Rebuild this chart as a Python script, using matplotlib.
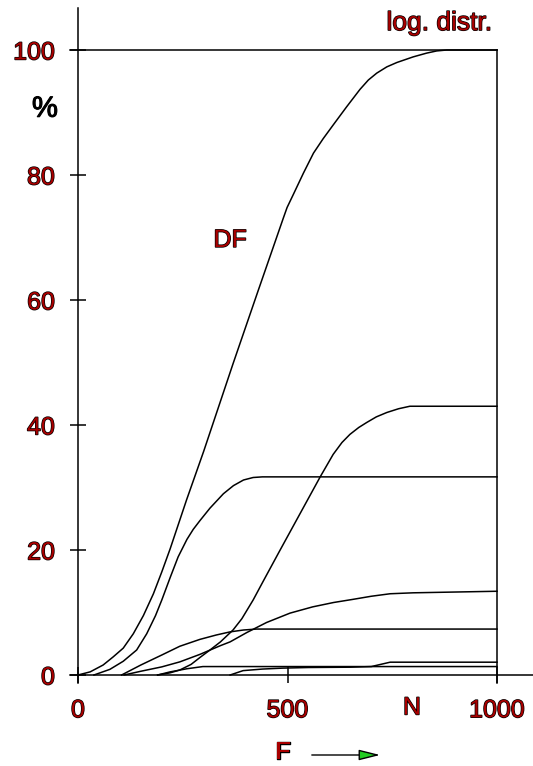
import matplotlib
matplotlib.use("Agg")
import matplotlib.pyplot as plt
import matplotlib.patheffects as pe

plt.rcParams['font.family'] = ['Liberation Sans', 'DejaVu Sans']

# ---- data ----
df_x = [0, 29, 60, 84, 108, 132, 156, 180, 200, 220, 259, 300, 370, 430, 490, 499,
        514, 538, 562, 585, 609, 641, 673, 693, 713, 737, 761, 800, 832, 856, 880, 1000]
df_y = [0, 0.5, 1.6, 2.9, 4.3, 6.6, 9.5, 13.0, 16.5, 20.2, 28, 35.8, 49.8, 61.5, 73.1, 74.8,
        76.9, 80.3, 83.5, 85.8, 88.0, 90.9, 93.7, 95.2, 96.3, 97.3, 98.0, 98.9, 99.5, 99.85, 100, 100]

c2_x = [38, 76, 108, 140, 164, 185, 200, 220, 239, 260, 275, 291, 315, 347, 371, 395, 418, 440, 1000]
c2_y = [0, 0.9, 2.2, 4.0, 6.6, 9.5, 12.0, 15.6, 18.9, 21.7, 23.3, 24.7, 26.7, 29.0, 30.3, 31.2, 31.6, 31.7, 31.7]

c3_x = [190, 220, 243, 270, 291, 315, 340, 370, 391, 418, 442, 480, 520, 578, 609,
        630, 649, 670, 689, 712, 737, 765, 792, 1000]
c3_y = [0, 0.35, 0.8, 1.7, 2.8, 4.0, 5.3, 7.2, 9.0, 12, 15.0, 19.7, 24.6, 31.7, 35.3,
        37.2, 38.5, 39.6, 40.4, 41.3, 42.0, 42.6, 43, 43]

c4_x = [110, 150, 200, 243, 291, 340, 363, 403, 450, 506, 560, 610, 656, 700, 745, 800, 1000]
c4_y = [0, 0.6, 1.3, 2.1, 3.3, 4.7, 5.3, 6.8, 8.4, 9.9, 10.9, 11.6, 12.1, 12.6, 13.0, 13.15, 13.4]

c5_x = [104, 150, 200, 243, 291, 330, 363, 395, 426, 1000]
c5_y = [0, 1.6, 3.2, 4.6, 5.7, 6.4, 6.9, 7.2, 7.35, 7.35]

c6_x = [363, 394, 440, 489, 550, 650, 700, 745, 1000]
c6_y = [0, 0.7, 0.95, 1.1, 1.2, 1.25, 1.35, 2.05, 2.05]

c7_x = [190, 220, 260, 298, 1000]
c7_y = [0, 0.5, 1.0, 1.35, 1.35]

curves = [(df_x, df_y), (c2_x, c2_y), (c3_x, c3_y), (c4_x, c4_y),
          (c5_x, c5_y), (c6_x, c6_y), (c7_x, c7_y)]

x_ticks = [0, 500, 1000]
x_tick_labels = ["0", "500", "1000"]
y_ticks = [0, 20, 40, 60, 80, 100]
y_tick_labels = ["0", "20", "40", "60", "80", "100"]

RED = '#a80000'
outline = [pe.Stroke(linewidth=1.0, foreground='black'), pe.Normal()]

W, H = 533, 766
fig = plt.figure(figsize=(W / 100, H / 100), dpi=100)
ax = fig.add_axes([78 / W, 91 / H, 419 / W, 625 / H])
ax.set_xlim(0, 1000)
ax.set_ylim(0, 100)
ax.patch.set_visible(False)

LW = 1.1
for s in ['top', 'right']:
    ax.spines[s].set_visible(False)
ax.spines['left'].set_linewidth(LW)
ax.spines['bottom'].set_linewidth(LW)
ax.spines['left'].set_bounds(-1.3, 106.7)
ax.spines['bottom'].set_bounds(-19, 1086)

# frame lines (top and right)
ax.plot([-19, 1000], [100, 100], color='black', lw=LW, clip_on=False)
ax.plot([1000, 1000], [100, -1.3], color='black', lw=LW, clip_on=False)

for cx, cy in curves:
    ax.plot(cx, cy, color='black', lw=LW, clip_on=False,
            solid_joinstyle='round', antialiased=True)

ax.set_xticks(x_ticks, x_tick_labels)
ax.set_yticks(y_ticks, y_tick_labels)
ax.tick_params(axis='both', direction='inout', length=11.5, width=LW,
               labelsize=18, labelcolor=RED)
ax.tick_params(axis='y', pad=10.8)
ax.tick_params(axis='x', pad=11)
for lab in ax.get_xticklabels() + ax.get_yticklabels():
    lab.set_path_effects(outline)

ax.text(-79, 90.6, "%", fontsize=21, color='black', ha='center', va='center',
        path_effects=[pe.Stroke(linewidth=0.8, foreground='black'), pe.Normal()])
ax.text(862, 104.3, "log. distr.", fontsize=19, color=RED, ha='center',
        va='center', path_effects=outline)
ax.text(363, 69.6, "DF", fontsize=18, color=RED, ha='center', va='center',
        path_effects=outline)
ax.text(797, -5.2, "N", fontsize=18, color=RED, ha='center', va='center',
        path_effects=outline)
ax.text(489, -12.3, "F", fontsize=18, color=RED, ha='center', va='center',
        path_effects=outline)
ax.annotate("", xy=(721, -12.8), xytext=(558, -12.8), xycoords='data',
            annotation_clip=False,
            arrowprops=dict(arrowstyle='-|>,head_length=0.72,head_width=0.18',
                            mutation_scale=18, fc='#22cc22', ec='black', lw=1.0,
                            shrinkA=0, shrinkB=0))

fig.savefig("out.png", dpi=100)
